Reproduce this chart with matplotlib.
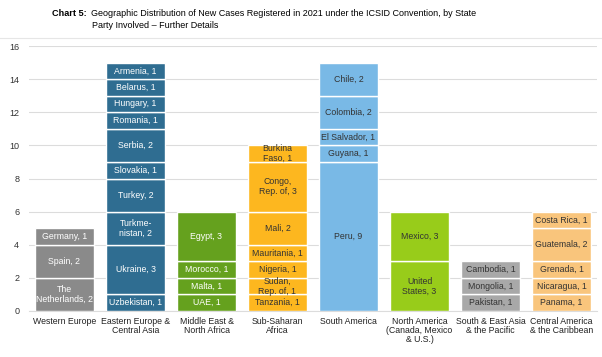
import matplotlib
matplotlib.use("Agg")
import matplotlib.pyplot as plt
from matplotlib.lines import Line2D

plt.rcParams['font.family'] = ['Liberation Sans', 'DejaVu Sans']

categories = ["Western Europe", "Eastern Europe &\nCentral Asia", "Middle East &\nNorth Africa",
              "Sub-Saharan\nAfrica", "South America", "North America\n(Canada, Mexico\n& U.S.)",
              "South & East Asia\n& the Pacific", "Central America\n& the Caribbean"]

w_europe_names = ["The\nNetherlands", "Spain", "Germany"]
w_europe_vals = [2, 2, 1]
e_europe_names = ["Uzbekistan", "Ukraine", "Turkme-\nnistan", "Turkey", "Slovakia", "Serbia",
                  "Romania", "Hungary", "Belarus", "Armenia"]
e_europe_vals = [1, 3, 2, 2, 1, 2, 1, 1, 1, 1]
mena_names = ["UAE", "Malta", "Morocco", "Egypt"]
mena_vals = [1, 1, 1, 3]
ssa_names = ["Tanzania", "Sudan,\nRep. of", "Nigeria", "Mauritania", "Mali", "Congo,\nRep. of",
             "Burkina\nFaso"]
ssa_vals = [1, 1, 1, 1, 2, 3, 1]
s_america_names = ["Peru", "Guyana", "El Salvador", "Colombia", "Chile"]
s_america_vals = [9, 1, 1, 2, 2]
n_america_names = ["United\nStates", "Mexico"]
n_america_vals = [3, 3]
asia_names = ["Pakistan", "Mongolia", "Cambodia"]
asia_vals = [1, 1, 1]
c_america_names = ["Panama", "Nicaragua", "Grenada", "Guatemala", "Costa Rica"]
c_america_vals = [1, 1, 1, 2, 1]

y_ticks = [0, 2, 4, 6, 8, 10, 12, 14, 16]

groups = [(w_europe_names, w_europe_vals), (e_europe_names, e_europe_vals),
          (mena_names, mena_vals), (ssa_names, ssa_vals),
          (s_america_names, s_america_vals), (n_america_names, n_america_vals),
          (asia_names, asia_vals), (c_america_names, c_america_vals)]
colors = ["#8a8a8a", "#2f6d91", "#65a11e", "#fdb71f", "#79b9e6", "#98cc1a", "#a8a8a8", "#f9c57c"]
text_colors = ["white", "white", "white", "#333333", "#333333", "#333333", "#333333", "#333333"]

fig = plt.figure(figsize=(6.02, 3.57), dpi=100)
ax = fig.add_axes([29/602, 1 - 311/357, 568/602, 265/357])

for i, ((names, vals), c, tc) in enumerate(zip(groups, colors, text_colors)):
    bottom = 0
    for n, v in zip(names, vals):
        ax.bar(i, v, bottom=bottom, width=0.83, color=c, edgecolor="white", linewidth=1.0, zorder=3)
        ax.text(i, bottom + v / 2, f"{n}, {v}", ha="center", va="center", fontsize=6.3,
                color=tc, zorder=4, linespacing=1.1)
        bottom += v

ax.set_xlim(-0.5, len(categories) - 0.5)
ax.set_ylim(0, 16)
ax.set_yticks(y_ticks)
ax.set_yticklabels([str(t) for t in y_ticks], fontsize=6.5, color="#333333")
ax.set_xticks(range(len(categories)))
ax.set_xticklabels(categories, fontsize=6.3, color="#222222", linespacing=1.05)
ax.tick_params(axis="both", length=0, pad=4)
ax.tick_params(axis="y", pad=7)
ax.grid(axis="y", color="#dcdcdc", linewidth=0.8, zorder=0)
for s in ["top", "right", "left"]:
    ax.spines[s].set_visible(False)
ax.spines["bottom"].set_color("#dcdcdc")

fig.text(52/602, 1 - 13/357, "Chart 5:", fontsize=6.6, fontweight="bold", va="center", ha="left")
fig.text(91/602, 1 - 13/357,
         "Geographic Distribution of New Cases Registered in 2021 under the ICSID Convention, by State",
         fontsize=6.5, va="center", ha="left")
fig.text(92/602, 1 - 26/357, "Party Involved \u2013 Further Details", fontsize=6.5, va="center", ha="left")
fig.add_artist(Line2D([0.0, 1.0], [1 - 37.5/357, 1 - 37.5/357], color="#e6e6e6", linewidth=0.8))

fig.savefig("out.png", dpi=100)
